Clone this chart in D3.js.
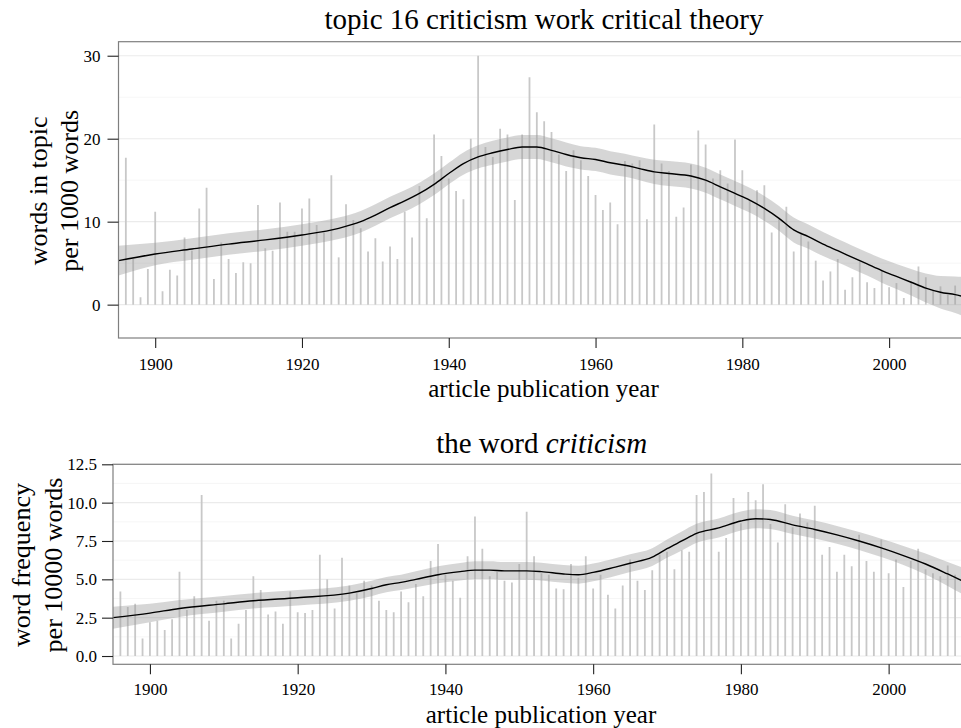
<!DOCTYPE html>
<html><head><meta charset="utf-8">
<script src="https://cdn.jsdelivr.net/npm/d3@7"></script>
<style>
body{margin:0;background:#fff}
svg{display:block}
text{font-family:"Liberation Serif","Times New Roman",serif;fill:#000}
</style>
</head><body><svg id="c" width="961" height="728"></svg>
<script>
// ---------- data ----------
const years = [1896,1897,1898,1899,1900,1901,1902,1903,1904,1905,1906,1907,1908,1909,1910,1911,1912,1913,1914,1915,1916,1917,1918,1919,1920,1921,1922,1923,1924,1925,1926,1927,1928,1929,1930,1931,1932,1933,1934,1935,1936,1937,1938,1939,1940,1941,1942,1943,1944,1945,1946,1947,1948,1949,1950,1951,1952,1953,1954,1955,1956,1957,1958,1959,1960,1961,1962,1963,1964,1965,1966,1967,1968,1969,1970,1971,1972,1973,1974,1975,1976,1977,1978,1979,1980,1981,1982,1983,1984,1985,1986,1987,1988,1989,1990,1991,1992,1993,1994,1995,1996,1997,1998,1999,2000,2001,2002,2003,2004,2005,2006,2007,2008,2009];

const topicValues = [17.7,5.5,0.9,4.3,11.2,1.6,4.2,3.5,8.1,6.5,11.6,14.1,3.1,7.5,5.5,3.8,5.1,5.0,12.0,6.8,6.5,12.3,8.8,8.8,11.6,12.8,9.6,8.7,15.6,5.7,12.1,10.2,9.2,6.4,8.0,5.2,7.0,
  5.5,11.2,8.1,14.3,10.4,20.5,17.9,15.2,13.7,12.7,20.0,30.0,19.0,17.8,21.2,20.5,12.6,20.5,27.4,23.2,22.1,20.8,18.1,16.1,18.6,17.4,15.5,13.2,11.4,12.3,9.7,17.3,17.0,17.4,10.3,21.7,17.0,16.1,10.6,
  11.7,16.9,21.0,19.3,15.2,16.2,14.6,19.9,16.2,12.6,13.8,14.4,8.7,10.3,11.8,6.4,8.7,7.6,5.3,2.9,4.0,5.5,1.8,3.3,5.2,2.7,2.0,4.2,2.1,2.6,0.8,2.8,4.6,3.3,1.7,2.2,1.2,2.3];

const wordValues = [4.2,3.2,3.4,1.15,2.2,2.3,1.7,2.4,5.5,3.0,3.9,10.5,2.3,3.6,3.6,1.15,2.1,3.0,5.2,4.3,2.7,2.9,2.1,4.2,2.85,2.8,3.0,6.6,5.0,3.1,6.4,4.6,4.1,4.9,4.6,3.6,3.0,
  2.85,4.2,3.5,4.7,3.9,6.2,7.3,5.3,4.9,3.8,6.5,9.1,7.0,5.2,5.5,4.9,4.8,6.0,9.4,6.5,5.4,5.3,4.4,4.35,6.0,5.1,6.5,4.4,5.3,4.0,3.1,4.6,6.3,4.9,4.3,5.6,6.6,6.8,5.65,
  6.9,6.8,10.5,10.7,11.9,6.8,7.7,10.3,8.65,10.7,10.15,11.2,8.6,7.4,9.9,8.4,9.3,8.7,9.8,6.6,7.1,5.5,6.6,5.85,7.9,6.2,5.5,7.6,5.4,6.3,4.5,6.2,7.0,5.65,5.4,5.2,5.9,5.3];

const topicSmoothYears = [1895,1900,1905,1910,1915,1920,1925,1928,1930,1932,1934,1936,1938,1940,1942,1944,1946,1948,1950,1952,1954,1956,1958,1960,1962,1964,1966,1968,1970,1973,1975,1977,1979,1981,1983,1985,1987,1989,1991,1993,1995,1997,1999,2001,2003,2005,2007,2009,2010];
const topicSmooth = [5.3,6.1,6.7,7.3,7.8,8.4,9.2,10.0,10.8,11.7,12.5,13.4,14.5,15.8,17.0,17.8,18.3,18.7,19.0,19.0,18.6,18.1,17.7,17.5,17.1,16.8,16.4,16.0,15.8,15.5,15.0,14.2,13.4,12.6,11.6,10.4,9.0,8.2,7.3,6.5,5.7,4.9,4.1,3.4,2.7,2.0,1.5,1.2,1.0];
const topicSe = [1.8,1.35,1.3,1.3,1.3,1.3,1.3,1.3,1.3,1.3,1.3,1.3,1.3,1.3,1.35,1.4,1.45,1.45,1.45,1.45,1.45,1.45,1.4,1.4,1.4,1.4,1.4,1.45,1.5,1.5,1.5,1.5,1.5,1.5,1.5,1.5,1.5,1.45,1.45,1.4,1.4,1.4,1.45,1.5,1.6,1.75,1.95,2.2,2.35];

const wordSmoothYears = [1895,1900,1904,1910,1914,1920,1927,1930,1932,1934,1936,1939,1942,1944,1946,1948,1951,1953,1956,1958,1960,1963,1965,1968,1970,1972,1974,1977,1980,1982,1984,1987,1990,1993,1996,1999,2002,2005,2008,2010];
const wordSmooth = [2.5,2.8,3.1,3.4,3.6,3.8,4.1,4.4,4.65,4.8,5.0,5.3,5.5,5.6,5.6,5.55,5.55,5.5,5.35,5.3,5.45,5.8,6.05,6.45,7.0,7.5,8.0,8.35,8.8,8.95,8.9,8.55,8.25,7.9,7.5,7.05,6.55,6.0,5.35,4.9];
const wordSe = [0.72,0.6,0.55,0.52,0.5,0.5,0.5,0.5,0.5,0.5,0.52,0.55,0.57,0.58,0.58,0.58,0.58,0.58,0.58,0.58,0.58,0.58,0.58,0.58,0.6,0.62,0.62,0.62,0.62,0.62,0.62,0.6,0.58,0.58,0.58,0.6,0.62,0.68,0.78,0.87];

const xTickValues = [1900,1920,1940,1960,1980,2000];
const topicYTicks = [0,10,20,30];
const topicYMinor = [5,15,25];
const wordYTicks = [0,2.5,5,7.5,10,12.5];
const wordYMinor = [1.25,3.75,6.25,8.75,11.25];

const topTitle = "topic 16 criticism work critical theory";
const topYLabel = ["words in topic","per 1000 words"];
const botYLabel = ["word frequency","per 10000 words"];
const xLabel = "article publication year";

// ---------- drawing ----------
const svg = d3.select("#c");

function panel(o){
  const x = d3.scaleLinear().domain([1895,2010]).range([o.left, 962.5]);
  const y = d3.scaleLinear().domain(o.yDomain).range([o.bottom, o.top]);
  const g = svg.append("g");
  const cid = "clip"+o.id;
  svg.append("clipPath").attr("id",cid).append("rect")
    .attr("x",o.left).attr("y",o.top).attr("width",962.5-o.left).attr("height",o.bottom-o.top);

  // gridlines
  g.append("g").selectAll("line").data(o.minor).join("line")
    .attr("x1",o.left).attr("x2",961).attr("y1",d=>y(d)).attr("y2",d=>y(d))
    .attr("stroke","#f5f5f5").attr("stroke-width",0.9);
  g.append("g").selectAll("line").data(o.ticks).join("line")
    .attr("x1",o.left).attr("x2",961).attr("y1",d=>y(d)).attr("y2",d=>y(d))
    .attr("stroke","#ebebeb").attr("stroke-width",1.1);

  const pg = g.append("g").attr("clip-path",`url(#${cid})`);
  // bars
  pg.append("g").selectAll("line").data(years).join("line")
    .attr("x1",d=>x(d)).attr("x2",d=>x(d))
    .attr("y1",y(0)).attr("y2",(d,i)=>y(o.values[i]))
    .attr("stroke","#c8c8c8").attr("stroke-width",1.8);
  // band
  const pts = o.sy.map((yr,i)=>({yr, v:o.sv[i], se:o.se[i]}));
  pg.append("path").datum(pts)
    .attr("d", d3.area().x(d=>x(d.yr)).y0(d=>y(d.v-d.se)).y1(d=>y(d.v+d.se)).curve(d3.curveMonotoneX))
    .attr("fill","#999").attr("fill-opacity",0.4);
  pg.append("path").datum(pts)
    .attr("d", d3.line().x(d=>x(d.yr)).y(d=>y(d.v)).curve(d3.curveMonotoneX))
    .attr("fill","none").attr("stroke","#000").attr("stroke-width",1.4);

  // border
  g.append("rect").attr("x",o.left).attr("y",o.top).attr("width",962.5-o.left).attr("height",o.bottom-o.top)
    .attr("fill","none").attr("stroke","#7f7f7f").attr("stroke-width",1.2);

  // axes
  const ya = g.append("g").attr("transform",`translate(${o.left},0)`)
    .call(d3.axisLeft(y).tickValues(o.ticks).tickSize(11).tickPadding(o.ypad).tickFormat(o.fmt));
  const xa = g.append("g").attr("transform",`translate(0,${o.bottom})`)
    .call(d3.axisBottom(x).tickValues(xTickValues).tickSize(10).tickPadding(o.xpad).tickFormat(d3.format("d")));
  [ya,xa].forEach(a=>{
    a.select(".domain").remove();
    a.selectAll(".tick line").attr("stroke","#222").attr("stroke-width",1.1);
    a.selectAll(".tick text").style("font-family",'"Liberation Serif",serif').style("font-size","17px").attr("fill","#111");
  });

  // axis titles
  g.append("text").attr("x",o.xlabX).attr("y",o.xlabY).attr("text-anchor","middle")
    .style("font-size","25px").text(xLabel);
  o.ylab.forEach((t,i)=>{
    g.append("text").attr("transform",`translate(${o.ylabX[i]},${o.ylabY}) rotate(-90)`)
      .attr("text-anchor","middle").style("font-size","26px").text(t);
  });
  return g;
}

panel({id:1,left:118.5,top:41.7,bottom:338,yDomain:[-4.02,31.69],
  ticks:topicYTicks,minor:topicYMinor,fmt:d3.format("d"),ypad:7,xpad:10,
  values:topicValues,sy:topicSmoothYears,sv:topicSmooth,se:topicSe,
  xlabX:543.5,xlabY:397,ylab:topYLabel,ylabX:[46.7,78.3],ylabY:190.8});

panel({id:2,left:113,top:464.3,bottom:664.3,yDomain:[-0.54,12.5],
  ticks:wordYTicks,minor:wordYMinor,fmt:d3.format(".1f"),ypad:5,xpad:9,
  values:wordValues,sy:wordSmoothYears,sv:wordSmooth,se:wordSe,
  xlabX:541,xlabY:722.5,ylab:botYLabel,ylabX:[30.1,61.7],ylabY:565});

// titles
svg.append("text").attr("x",544).attr("y",29.3).attr("text-anchor","middle")
  .style("font-size","29px").text(topTitle);
const t2 = svg.append("text").attr("x",541.7).attr("y",453.3).attr("text-anchor","middle").style("font-size","29px");
t2.append("tspan").text("the word ");
t2.append("tspan").style("font-style","italic").text("criticism");
</script>
</body></html>
